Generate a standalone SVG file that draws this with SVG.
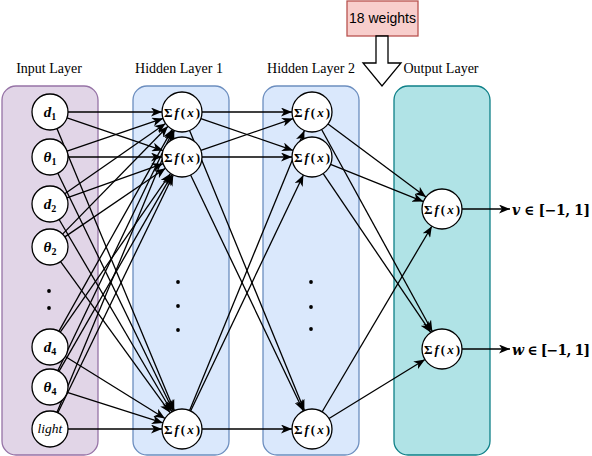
<svg xmlns="http://www.w3.org/2000/svg" width="592" height="456" viewBox="0 0 592 456">
<defs>
<marker id="arr" markerUnits="userSpaceOnUse" markerWidth="12" markerHeight="9" refX="11" refY="4.5" orient="auto" viewBox="0 0 12 9">
<path d="M0,0 L11,4.5 L0,9 L3,4.5 z" fill="#000"/>
</marker>
<style>
.lbl{font-family:"Liberation Serif","Times New Roman",serif;font-size:14px;fill:#000;text-anchor:middle}
.node{fill:#fff;stroke:#000;stroke-width:1.3}
.mi{font-family:"Liberation Serif","DejaVu Serif",serif;font-weight:bold;font-style:italic;font-size:15px;text-anchor:middle}
.sig{font-family:"Liberation Serif","DejaVu Serif",serif;font-weight:bold;font-size:13px;text-anchor:middle}
.e line{stroke:#000;stroke-width:1.3;fill:none;marker-end:url(#arr)}
.dot{fill:#000}
</style>
</defs>
<rect width="592" height="456" fill="#fff"/>
<g id="panels">
<rect id="input-panel" x="2" y="86" width="96" height="369" rx="14" fill="#e1d5e7" stroke="#9673a6" stroke-width="1.3"/>
<rect id="hidden1-panel" x="133" y="86" width="96" height="369" rx="14" fill="#dae8fc" stroke="#6c8ebf" stroke-width="1.3"/>
<rect id="hidden2-panel" x="263" y="86" width="96" height="369" rx="14" fill="#dae8fc" stroke="#6c8ebf" stroke-width="1.3"/>
<rect id="output-panel" x="394" y="86" width="96" height="369" rx="14" fill="#b0e3e6" stroke="#0e8088" stroke-width="1.3"/>
</g>
<g id="titles">
<text class="lbl" x="49" y="73">Input Layer</text>
<text class="lbl" x="179" y="73">Hidden Layer 1</text>
<text class="lbl" x="311" y="73">Hidden Layer 2</text>
<text class="lbl" x="441" y="73">Output Layer</text>
</g>
<g id="weights">
<rect x="347" y="1" width="71" height="35" fill="#f8cecc" stroke="#b85450" stroke-width="1.3"/>
<text x="382.5" y="23" font-family="'Liberation Sans',Arial,sans-serif" font-size="14" text-anchor="middle">18 weights</text>
<polygon points="376,36 376,63 363,63 382,86 401,63 388,63 388,36" fill="#fff" stroke="#000" stroke-width="1.3"/>
</g>
<g id="connectors" class="e">
<line x1="68" y1="112" x2="162" y2="112"/>
<line x1="67.04" y1="117.81" x2="163.07" y2="150.55"/>
<line x1="56.92" y1="128.62" x2="174.31" y2="410.54"/>
<line x1="67.04" y1="151.19" x2="163.07" y2="118.45"/>
<line x1="68" y1="157" x2="162" y2="157"/>
<line x1="57.86" y1="173.19" x2="173.27" y2="411.01"/>
<line x1="64.77" y1="193.71" x2="165.59" y2="123.44"/>
<line x1="66.96" y1="197.96" x2="163.16" y2="163.71"/>
<line x1="59.11" y1="219.53" x2="171.88" y2="411.75"/>
<line x1="62.58" y1="234.13" x2="168.02" y2="126.30"/>
<line x1="64.87" y1="236.86" x2="165.48" y2="168.27"/>
<line x1="60.57" y1="261.57" x2="170.26" y2="412.81"/>
<line x1="58.82" y1="331.31" x2="172.21" y2="129.44"/>
<line x1="60.27" y1="332.22" x2="170.59" y2="173.43"/>
<line x1="65.29" y1="356.50" x2="165.01" y2="418.45"/>
<line x1="57.79" y1="370.77" x2="173.35" y2="130.03"/>
<line x1="58.96" y1="371.39" x2="172.04" y2="174.35"/>
<line x1="67.15" y1="392.46" x2="162.94" y2="422.94"/>
<line x1="56.92" y1="412.38" x2="174.31" y2="130.46"/>
<line x1="57.86" y1="412.81" x2="173.27" y2="174.99"/>
<line x1="68" y1="429" x2="162" y2="429"/>
<line x1="202" y1="112" x2="292" y2="112"/>
<line x1="200.90" y1="118.54" x2="293.10" y2="150.46"/>
<line x1="189.59" y1="130.50" x2="304.41" y2="410.50"/>
<line x1="200.90" y1="150.46" x2="293.10" y2="118.54"/>
<line x1="202" y1="157" x2="292" y2="157"/>
<line x1="190.62" y1="175.04" x2="303.38" y2="410.96"/>
<line x1="189.59" y1="410.50" x2="304.41" y2="130.50"/>
<line x1="190.62" y1="410.96" x2="303.38" y2="175.04"/>
<line x1="202" y1="429" x2="292" y2="429"/>
<line x1="328.03" y1="123.96" x2="425.97" y2="197.04"/>
<line x1="321.62" y1="129.54" x2="432.38" y2="331.46"/>
<line x1="330.57" y1="164.43" x2="423.43" y2="201.57"/>
<line x1="323.21" y1="173.56" x2="430.79" y2="332.44"/>
<line x1="322.17" y1="411.78" x2="431.83" y2="226.22"/>
<line x1="329.03" y1="418.52" x2="424.97" y2="359.48"/>
<line x1="462" y1="209" x2="510" y2="209"/>
<line x1="462" y1="349" x2="510" y2="349"/>
</g>
<g id="dots">
<circle class="dot" cx="49" cy="291" r="1.9"/>
<circle class="dot" cx="49" cy="308" r="1.9"/>
<circle class="dot" cx="178" cy="282" r="1.9"/>
<circle class="dot" cx="178" cy="306" r="1.9"/>
<circle class="dot" cx="178" cy="330" r="1.9"/>
<circle class="dot" cx="311" cy="282" r="1.9"/>
<circle class="dot" cx="311" cy="307" r="1.9"/>
<circle class="dot" cx="311" cy="329" r="1.9"/>
</g>
<g id="in-d1"><circle class="node" cx="50" cy="112" r="18"/><text class="mi" x="50" y="117">d<tspan font-size="10" font-style="normal" dy="3">1</tspan></text></g>
<g id="in-t1"><circle class="node" cx="50" cy="157" r="18"/><text class="mi" x="50" y="162">θ<tspan font-size="10" font-style="normal" dy="3">1</tspan></text></g>
<g id="in-d2"><circle class="node" cx="50" cy="204" r="18"/><text class="mi" x="50" y="209">d<tspan font-size="10" font-style="normal" dy="3">2</tspan></text></g>
<g id="in-t2"><circle class="node" cx="50" cy="247" r="18"/><text class="mi" x="50" y="252">θ<tspan font-size="10" font-style="normal" dy="3">2</tspan></text></g>
<g id="in-d4"><circle class="node" cx="50" cy="347" r="18"/><text class="mi" x="50" y="352">d<tspan font-size="10" font-style="normal" dy="3">4</tspan></text></g>
<g id="in-t4"><circle class="node" cx="50" cy="387" r="18"/><text class="mi" x="50" y="392">θ<tspan font-size="10" font-style="normal" dy="3">4</tspan></text></g>
<g id="in-light"><circle class="node" cx="50" cy="429" r="18"/><text x="50" y="433" font-family="'Liberation Serif',serif" font-style="italic" font-size="13.5" text-anchor="middle">light</text></g>
<g id="h1-a"><circle class="node" cx="182" cy="112" r="20"/><text class="sig" x="182" y="116.5" textLength="36">Σ<tspan font-style="italic">f</tspan>(<tspan font-style="italic">x</tspan>)</text></g>
<g id="h1-b"><circle class="node" cx="182" cy="157" r="20"/><text class="sig" x="182" y="161.5" textLength="36">Σ<tspan font-style="italic">f</tspan>(<tspan font-style="italic">x</tspan>)</text></g>
<g id="h1-c"><circle class="node" cx="182" cy="429" r="20"/><text class="sig" x="182" y="433.5" textLength="36">Σ<tspan font-style="italic">f</tspan>(<tspan font-style="italic">x</tspan>)</text></g>
<g id="h2-a"><circle class="node" cx="312" cy="112" r="20"/><text class="sig" x="312" y="116.5" textLength="36">Σ<tspan font-style="italic">f</tspan>(<tspan font-style="italic">x</tspan>)</text></g>
<g id="h2-b"><circle class="node" cx="312" cy="157" r="20"/><text class="sig" x="312" y="161.5" textLength="36">Σ<tspan font-style="italic">f</tspan>(<tspan font-style="italic">x</tspan>)</text></g>
<g id="h2-c"><circle class="node" cx="312" cy="429" r="20"/><text class="sig" x="312" y="433.5" textLength="36">Σ<tspan font-style="italic">f</tspan>(<tspan font-style="italic">x</tspan>)</text></g>
<g id="out-v"><circle class="node" cx="442" cy="209" r="20"/><text class="sig" x="442" y="213.5" textLength="36">Σ<tspan font-style="italic">f</tspan>(<tspan font-style="italic">x</tspan>)</text></g>
<g id="out-w"><circle class="node" cx="442" cy="349" r="20"/><text class="sig" x="442" y="353.5" textLength="36">Σ<tspan font-style="italic">f</tspan>(<tspan font-style="italic">x</tspan>)</text></g>
<g id="out-labels" font-family="'DejaVu Serif','Liberation Serif',serif" font-size="14" font-weight="bold">
<text x="512" y="214.5" textLength="78"><tspan font-style="italic">v</tspan> ∈ [−1, 1]</text>
<text x="512" y="354.5" textLength="78"><tspan font-style="italic">w</tspan> ∈ [−1, 1]</text>
</g>
</svg>
